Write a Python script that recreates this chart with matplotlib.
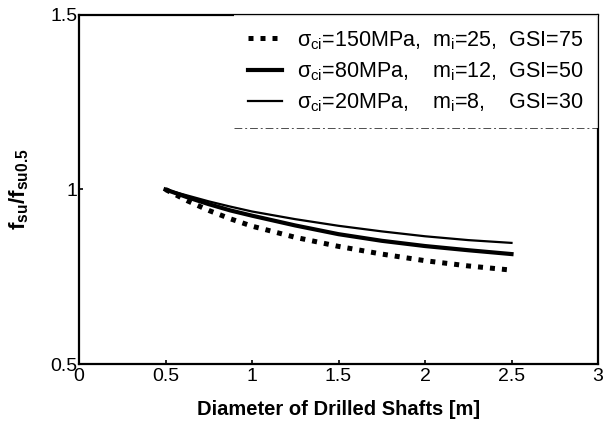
import numpy as np
import matplotlib.pyplot as plt
from matplotlib.lines import Line2D

plt.rcParams['font.family'] = ['Liberation Sans', 'DejaVu Sans']
plt.rcParams['mathtext.fontset'] = 'custom'
plt.rcParams['mathtext.rm'] = 'Liberation Sans'
plt.rcParams['mathtext.it'] = 'Liberation Sans'
plt.rcParams['mathtext.bf'] = 'Liberation Sans:bold'

########## data ##########
diameter = [0.5, 0.625, 0.75, 0.875, 1.0, 1.25, 1.5, 1.75, 2.0, 2.25, 2.5]
ratio_150 = [1.0, 0.968, 0.940, 0.916, 0.895, 0.863, 0.837, 0.815, 0.796, 0.781, 0.769]
ratio_80 = [1.0, 0.978, 0.958, 0.940, 0.925, 0.897, 0.872, 0.853, 0.838, 0.826, 0.815]
ratio_20 = [1.0, 0.983, 0.966, 0.951, 0.937, 0.915, 0.896, 0.880, 0.866, 0.855, 0.847]
labels = [r'$\sigma_{ci}$=150MPa,  m$_i$=25,  GSI=75',
          r'$\sigma_{ci}$=80MPa,    m$_i$=12,  GSI=50',
          r'$\sigma_{ci}$=20MPa,    m$_i$=8,    GSI=30']

fig = plt.figure(figsize=(6.06, 4.23), dpi=100)
ax = fig.add_axes([79/606, 59/423, 519/606, 349/423])

ax.plot(diameter, ratio_150, color='black', lw=3.6, linestyle=(0, (1, 1.4)),
        dash_capstyle='butt', label=labels[0])
ax.plot(diameter, ratio_80, color='black', lw=3.0, label=labels[1])
ax.plot(diameter, ratio_20, color='black', lw=1.6, label=labels[2])

ax.set_xlim(0, 3)
ax.set_ylim(0.5, 1.5)
ax.set_xticks([0, 0.5, 1, 1.5, 2, 2.5, 3])
ax.set_xticklabels(['0', '0.5', '1', '1.5', '2', '2.5', '3'])
ax.set_yticks([0.5, 1, 1.5])
ax.set_yticklabels(['0.5', '1', '1.5'])
ax.tick_params(direction='in', labelsize=14, length=3, width=1.2)
ax.tick_params(axis='x', pad=3)
ax.tick_params(axis='y', pad=1)
for s in ax.spines.values():
    s.set_linewidth(1.6)

ax.set_xlabel('Diameter of Drilled Shafts [m]', fontsize=14.5, fontweight='bold',
              labelpad=11)
ax.set_ylabel(r'$\mathbf{f_{su}/f_{su0.5}}$', fontsize=16, labelpad=14)

leg = ax.legend(loc='upper right', fontsize=15.5, frameon=True, fancybox=False,
                handlelength=1.6, handletextpad=0.7, borderaxespad=0,
                labelspacing=0.4, borderpad=0.65)
leg.get_frame().set_edgecolor('none')

# faint bottom edge of the legend box, as in the scanned figure
fig.canvas.draw()
bb = leg.get_window_extent().transformed(ax.transAxes.inverted())
ax.add_line(Line2D([bb.x0, bb.x1], [bb.y0, bb.y0], transform=ax.transAxes,
                   color='0.3', lw=0.7, linestyle=(0, (8, 3, 2, 3))))

fig.savefig('out.png', dpi=100)
